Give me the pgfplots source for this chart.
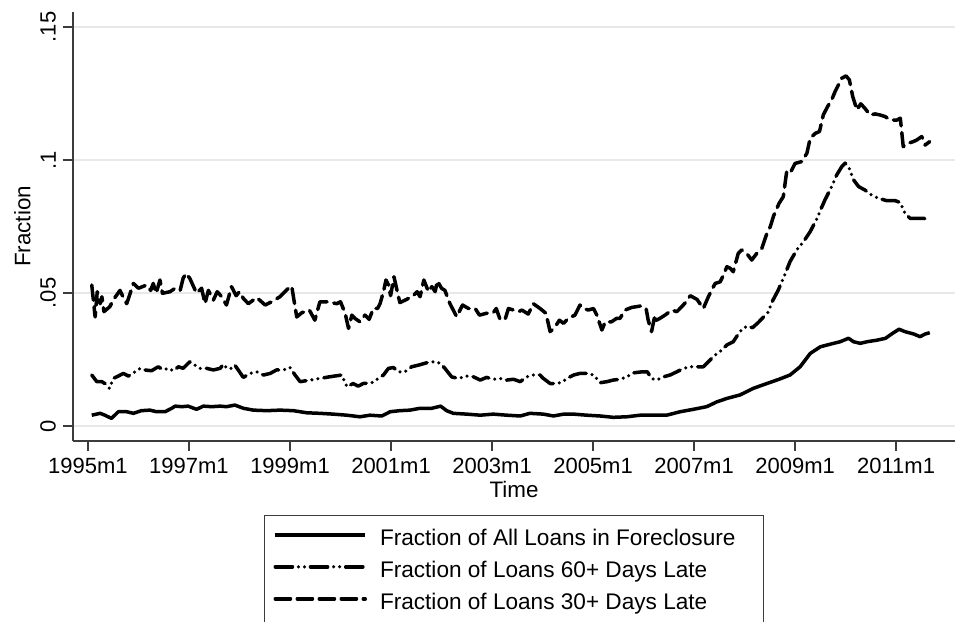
\documentclass[border=0pt]{standalone}
\usepackage{fontspec}
\setmainfont{Liberation Sans}
\usepackage{pgfplots}
\pgfplotsset{compat=1.18}
\definecolor{axgray}{RGB}{60,60,60}
\definecolor{gridgray}{RGB}{232,232,232}
\begin{document}
\begin{tikzpicture}
\begin{axis}[
 name=ax,
 scale only axis,
 width=441pt, height=214.5pt,
 xmin=-3.56, xmax=206, ymin=-0.0056, ymax=0.1556,
 axis lines=left,
 axis line style={-, draw=axgray, line width=0.75pt},
 xtick={0,24,...,192},
 xticklabels={1995m1,1997m1,1999m1,2001m1,2003m1,2005m1,2007m1,2009m1,2011m1},
 ytick={0,0.05,0.1,0.15},
 yticklabels={0,.05,.1,.15},
 tick align=outside,
 major tick length=5pt,
 minor tick num=0,
 tick style={draw=axgray, line width=0.75pt},
 ymajorgrids,
 grid style={draw=gridgray, line width=0.75pt},
 ticklabel style={font=\fontsize{11}{13}\selectfont, text=black},
 yticklabel style={rotate=90, anchor=south},
 xlabel={Time}, ylabel={Fraction},
 label style={font=\fontsize{11.2}{13}\selectfont},
 xlabel style={yshift=3pt},
 ylabel style={inner sep=1.3pt},
 legend style={
   at={(0.5,-0.1725)}, anchor=north,
   draw=axgray, line width=0.5pt,
   inner xsep=4.5pt, inner ysep=7.2pt,
   row sep=5.5pt,
   font=\fontsize{11.3}{13}\selectfont,
   nodes={inner xsep=0pt, inner ysep=0pt, text height=8pt, text depth=2.5pt},
   /tikz/every odd column/.append style={column sep=6.5pt},
 },
 legend cell align=left,
 legend image code/.code={\draw[#1] (0pt,2.8pt) -- (45pt,2.8pt);},
 every axis plot/.append style={line width=1.75pt, black, mark=none},
]
% Fraction of All Loans in Foreclosure
\addplot[solid, line join=round] coordinates {
(0.9,0.0041)(2.9,0.0048)(4.0,0.0041)(5.6,0.0029)(7.2,0.0054)(9.2,0.0054)(10.8,0.0048)
(12.7,0.0058)(14.7,0.0060)(16.3,0.0054)(18.3,0.0054)(19.9,0.0067)(20.7,0.0075)(22.3,0.0073)
(23.8,0.0075)(25.8,0.0063)(27.4,0.0075)(29.4,0.0073)(31.4,0.0075)(32.9,0.0073)(34.9,0.0079)
(36.9,0.0067)(39.3,0.0060)(42.5,0.0058)(45.6,0.0060)(48.8,0.0058)(52.0,0.0050)(55.1,0.0048)
(58.3,0.0045)(61.5,0.0041)(64.6,0.0035)(67.0,0.0041)(69.8,0.0038)(71.8,0.0054)(74.1,0.0058)
(76.5,0.0060)(78.9,0.0067)(81.7,0.0067)(83.8,0.0075)(85.2,0.0058)(86.8,0.0048)(90.0,0.0045)
(93.2,0.0041)(96.3,0.0045)(99.5,0.0041)(102.7,0.0038)(105.0,0.0048)(108.2,0.0045)(110.6,0.0038)
(113.0,0.0045)(115.4,0.0045)(118.5,0.0041)(121.7,0.0038)(124.8,0.0033)(128.0,0.0035)(131.2,0.0041)
(134.3,0.0041)(137.5,0.0041)(140.7,0.0054)(143.8,0.0063)(147.0,0.0073)(149.4,0.0091)(151.8,0.0104)
(154.9,0.0117)(158.1,0.0142)(161.3,0.0160)(164.2,0.0176)(166.8,0.0192)(169.2,0.0223)(171.6,0.0273)
(174.0,0.0298)(176.4,0.0308)(178.7,0.0317)(180.7,0.0330)(181.9,0.0317)(183.5,0.0311)(185.1,0.0317)
(187.5,0.0323)(189.5,0.0330)(191.1,0.0348)(192.7,0.0364)(194.1,0.0355)(196.2,0.0346)(197.7,0.0336)
(198.9,0.0346)(200.0,0.0351)
};
\addlegendentry{Fraction of All Loans in Foreclosure\hspace*{9.5pt}}
% Fraction of Loans 60+ Days Late
\addplot[line cap=round, line join=round, dash pattern=on 8.6pt off 3pt on 0pt off 3pt on 0pt off 3pt] coordinates {
(0.9,0.0192)(2.1,0.0167)(3.3,0.0167)(4.0,0.0160)(5.1,0.0142)(6.0,0.0179)(7.2,0.0188)(8.4,0.0198)
(9.6,0.0188)(11.2,0.0204)(12.4,0.0217)(13.5,0.0211)(15.1,0.0208)(16.7,0.0223)(17.9,0.0211)
(19.1,0.0217)(20.3,0.0208)(21.5,0.0223)(22.6,0.0217)(24.2,0.0242)(25.4,0.0229)(26.6,0.0217)
(28.2,0.0217)(29.8,0.0211)(31.4,0.0217)(32.2,0.0233)(33.0,0.0217)(34.1,0.0217)(34.9,0.0229)
(36.0,0.0204)(36.9,0.0183)(38.5,0.0198)(40.1,0.0204)(41.7,0.0192)(43.3,0.0198)(44.8,0.0211)
(46.4,0.0211)(48.0,0.0220)(49.2,0.0192)(50.4,0.0167)(52.8,0.0173)(55.1,0.0179)(57.3,0.0185)
(60.3,0.0192)(61.5,0.0148)(63.0,0.0160)(64.2,0.0150)(65.4,0.0160)(67.4,0.0163)(69.0,0.0179)
(70.2,0.0192)(71.4,0.0217)(72.6,0.0220)(73.7,0.0204)(75.3,0.0204)(76.9,0.0223)(78.5,0.0229)
(80.5,0.0238)(82.5,0.0242)(83.7,0.0236)(84.8,0.0217)(86.4,0.0185)(88.0,0.0179)(90.0,0.0188)
(91.6,0.0185)(93.2,0.0173)(94.7,0.0183)(96.3,0.0176)(97.9,0.0179)(99.5,0.0173)(101.1,0.0176)
(102.7,0.0167)(104.2,0.0185)(105.8,0.0192)(107.4,0.0192)(108.2,0.0179)(109.8,0.0160)(111.4,0.0160)
(112.6,0.0165)(113.8,0.0179)(115.4,0.0192)(116.9,0.0198)(118.5,0.0198)(120.1,0.0192)(121.7,0.0163)
(123.3,0.0167)(124.8,0.0173)(126.4,0.0176)(128.0,0.0185)(129.6,0.0200)(131.6,0.0204)(132.9,0.0204)
(133.9,0.0179)(135.1,0.0173)(136.7,0.0185)(138.3,0.0192)(139.9,0.0204)(141.5,0.0217)(143.1,0.0223)
(144.7,0.0223)(146.2,0.0223)(147.4,0.0242)(149.0,0.0267)(150.6,0.0286)(151.8,0.0305)(153.3,0.0317)
(154.9,0.0355)(156.5,0.0376)(157.9,0.0370)(159.3,0.0390)(160.5,0.0410)(161.5,0.0426)(162.7,0.0472)
(164.0,0.0511)(165.2,0.0555)(166.8,0.0618)(168.4,0.0662)(170.0,0.0693)(171.6,0.0731)(173.2,0.0780)
(174.4,0.0825)(175.1,0.0850)(176.7,0.0900)(177.9,0.0944)(179.1,0.0975)(179.9,0.0988)(180.7,0.0975)
(181.9,0.0925)(183.1,0.0900)(184.6,0.0887)(186.2,0.0868)(187.8,0.0856)(189.8,0.0847)(191.8,0.0847)
(193.0,0.0840)(194.1,0.0800)(195.3,0.0781)(196.9,0.0781)(198.5,0.0781)(200.0,0.0774)
};
\addlegendentry{Fraction of Loans 60+ Days Late}
% Fraction of Loans 30+ Days Late
\addplot[line cap=round, line join=round, dash pattern=on 7.6pt off 3.4pt] coordinates {
(0.9,0.0530)(1.7,0.0410)(2.2,0.0505)(2.9,0.0460)(3.3,0.0486)(3.8,0.0430)(5.2,0.0449)(6.0,0.0474)
(7.6,0.0510)(8.2,0.0490)(9.2,0.0460)(10.8,0.0536)(12.0,0.0518)(13.9,0.0530)(14.9,0.0510)
(15.5,0.0536)(16.2,0.0499)(17.1,0.0549)(17.7,0.0499)(19.5,0.0505)(20.7,0.0518)(21.9,0.0510)
(22.6,0.0555)(23.3,0.0574)(24.2,0.0555)(25.8,0.0499)(27.0,0.0518)(27.8,0.0460)(28.6,0.0510)
(29.8,0.0474)(30.7,0.0505)(31.8,0.0486)(32.9,0.0455)(34.1,0.0524)(35.2,0.0490)(36.0,0.0505)
(36.9,0.0480)(38.1,0.0460)(40.1,0.0483)(42.1,0.0455)(43.6,0.0467)(45.6,0.0486)(47.6,0.0518)
(48.4,0.0526)(49.6,0.0410)(50.8,0.0426)(52.6,0.0436)(53.9,0.0398)(55.1,0.0467)(56.7,0.0467)
(57.9,0.0464)(59.1,0.0460)(60.0,0.0467)(61.1,0.0424)(61.9,0.0367)(62.7,0.0417)(63.4,0.0405)
(64.6,0.0392)(65.8,0.0417)(66.8,0.0401)(67.8,0.0442)(68.8,0.0442)(69.4,0.0460)(70.2,0.0505)
(70.8,0.0549)(71.4,0.0530)(71.9,0.0490)(72.7,0.0561)(73.5,0.0505)(74.1,0.0464)(75.7,0.0476)
(77.3,0.0490)(78.2,0.0505)(78.9,0.0486)(79.8,0.0549)(80.9,0.0505)(81.7,0.0524)(82.5,0.0505)
(83.0,0.0546)(84.0,0.0518)(84.8,0.0510)(86.0,0.0460)(87.6,0.0411)(89.0,0.0455)(90.4,0.0442)
(92.0,0.0442)(93.0,0.0417)(94.7,0.0424)(96.3,0.0426)(97.0,0.0442)(97.9,0.0401)(99.1,0.0401)
(99.9,0.0442)(101.1,0.0436)(102.3,0.0430)(103.1,0.0436)(104.6,0.0421)(105.8,0.0460)(107.4,0.0442)
(108.8,0.0424)(109.8,0.0355)(111.0,0.0373)(112.0,0.0398)(113.0,0.0386)(114.1,0.0405)(115.7,0.0417)
(116.9,0.0455)(117.7,0.0442)(118.9,0.0436)(120.1,0.0442)(120.9,0.0417)(122.1,0.0361)(122.9,0.0392)
(124.4,0.0392)(125.6,0.0405)(126.4,0.0405)(127.6,0.0436)(129.2,0.0446)(131.2,0.0451)(132.6,0.0442)
(133.1,0.0398)(133.9,0.0355)(134.7,0.0417)(135.1,0.0398)(135.9,0.0405)(137.1,0.0417)(138.7,0.0436)
(139.9,0.0430)(141.1,0.0449)(142.1,0.0467)(143.1,0.0490)(144.7,0.0476)(146.2,0.0442)(147.4,0.0486)
(149.0,0.0536)(150.2,0.0542)(151.0,0.0568)(151.8,0.0599)(152.6,0.0593)(153.3,0.0580)(154.5,0.0649)
(155.3,0.0662)(156.5,0.0649)(157.7,0.0624)(158.9,0.0649)(160.1,0.0668)(161.3,0.0724)(162.1,0.0749)
(162.9,0.0790)(164.2,0.0837)(165.2,0.0862)(166.0,0.0956)(166.8,0.0950)(168.0,0.0987)(169.6,0.0994)
(170.8,0.1025)(171.6,0.1082)(172.8,0.1100)(173.8,0.1107)(174.7,0.1169)(175.7,0.1200)(176.7,0.1226)
(177.5,0.1257)(178.3,0.1282)(179.1,0.1307)(180.1,0.1316)(180.9,0.1301)(181.7,0.1238)(182.7,0.1188)
(183.6,0.1211)(184.6,0.1194)(185.8,0.1169)(187.0,0.1173)(188.2,0.1169)(189.4,0.1163)(190.6,0.1150)
(192.2,0.1150)(193.0,0.1157)(193.7,0.1050)(194.9,0.1063)(196.1,0.1069)(196.9,0.1075)(198.1,0.1088)
(198.9,0.1056)(200.0,0.1069)
};
\addlegendentry{Fraction of Loans 30+ Days Late}
\end{axis}
\pgfresetboundingbox
\path[use as bounding box] ([xshift=-36.5pt,yshift=-90pt]ax.south west) rectangle ([xshift=441.5pt,yshift=220.5pt]ax.south west);
\end{tikzpicture}
\end{document}
